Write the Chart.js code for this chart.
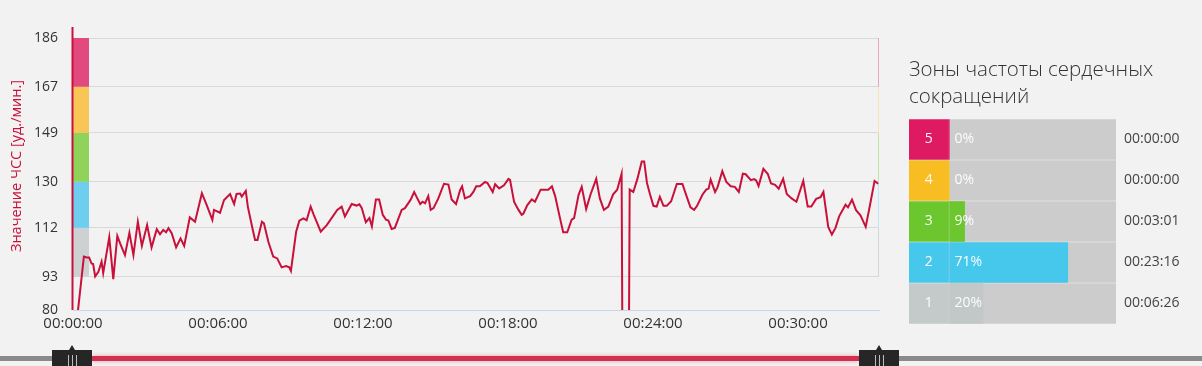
<!DOCTYPE html>
<html><head><meta charset="utf-8">
<script src="https://cdn.jsdelivr.net/npm/chart.js@4.4.1/dist/chart.umd.min.js"></script>
<style>
html,body{margin:0;padding:0;background:#f2f2f2;overflow:hidden;}
#wrap{position:relative;width:1202px;height:366px;}
#main{position:absolute;left:0;top:0;}
#zones{position:absolute;left:900px;top:0;}
</style></head><body>
<div id="wrap"><canvas id="main" width="1202" height="366"></canvas><canvas id="zones" width="302" height="340"></canvas></div>
<script>
// ---- data ----
const timeSec = [0,27,34,40,46,50,55,63,71,75,
90,100,110,117,129,140,150,161,171,184,
195,208,216,224,231,237,245,256,267,276,
290,303,320,332,346,350,365,375,390,400,
406,415,419,429,434,446,452,458,469,474,
485,497,507,518,529,537,541,554,562,572,
580,590,598,615,630,656,667,675,692,704,
711,717,727,736,742,752,760,769,777,783,
791,799,816,824,838,847,853,862,868,874,
882,888,895,907,921,932,940,951,961,966,
973,986,994,1001,1010,1023,1029,1042,1048,1058,
1070,1081,1085,1095,1106,1114,1118,1128,1139,1147,
1161,1180,1189,1197,1209,1217,1227,1238,1244,1255,
1263,1274,1285,1299,1308,1318,1329,1341,1351,1362,
1366,1378,1382,1391,1401,1412,1418,1425,1433,1441,
1449,1457,1466,1474,1485,1499,1513,1523,1533,1542,
1549,1563,1572,1578,1583,1594,1600,1612,1622,1633,
1643,1653,1663,1670,1683,1691,1696,1702,1714,1725,
1733,1743,1752,1763,1772,1784,1796,1813,1824,1833,
1845,1856,1863,1875,1884,1893,1902,1918,1924,1934,
1944,1955,1968,1979,1990,1999];
const heartRate = [62,100.8,100.5,100.5,98.1,97.9,93.1,94.9,98.8,94.4,
108.4,92,108.9,106,101.4,110.1,101.4,114.4,105,113.1,
104.4,111.5,109.5,111.2,110.3,111.9,109.9,104.4,107.9,105,
116.1,114.4,125.5,120.9,115.1,119,117.9,122.9,125.2,121.3,
125.2,125.4,124.2,126.4,120.3,111.5,107.3,107.3,114.4,113.8,
106.6,100.8,100.1,96.6,97.1,96.6,95.2,110.5,114.8,115.7,
115,120.3,117,110.5,113.1,119,120.3,116.4,121.3,120.7,
121.2,119.7,114.2,115.8,112.6,123.1,123.1,117.1,115.2,114.9,
111.6,112,119,119.7,122.9,126,124.1,121.3,122.2,121.6,
124.4,119,119.7,123.5,129.2,128.9,123.1,121.3,126.7,128.2,
123.5,124.4,126,128.2,128.2,129.9,129.5,126,129,127.4,
128.6,131.1,130.7,122.2,119,117.1,117.5,120.9,123.1,122.2,
126.9,126.9,128.2,124.4,115.8,110.3,110.3,115.2,115.8,124.8,
128,119.3,125.1,131.1,123.5,119,120.3,125.1,126.9,133.1,
0,0,126.9,126,131,137.9,137.9,129.5,124.8,120.6,
120.3,124.1,120.6,120.6,122.4,129.1,129.1,124.5,120,119,
120.5,125,126.9,127.3,130.8,126,127.8,134.1,129.9,128.2,
128,126,133.1,132.9,130.6,131,130.5,128.3,135,133,
129.3,128.8,127.3,131.1,125.2,123.5,122.2,130.3,120.3,120.3,
123.3,124,126,112.4,109.4,112,116.5,121,120,123,
118.9,116.9,112.4,121.2,130.3,129.2];
const durationSec = 2001;
const xTickSec = [0,360,720,1080,1440,1800];
const yTickValues = [80,93,112,130,149,167,186];
const zoneBounds = [93,112,130,149,167,186];          // zone 1..5 limits
const zoneBandColors = ['#cdd1d1','#6dcef0','#8fd35b','#f7c657','#e2497e'];
const zoneEdgeColors = ['#d6d6d6','#bfe6f4','#bfe3a6','#f6e3b8','#e6a6bd'];
const yAxisTitle = 'Значение ЧСС [уд./мин.]';

const panelTitle = ['Зоны частоты сердечных', 'сокращений'];
const zoneNames = ['5','4','3','2','1'];
const zonePercent = [0,0,9,71,20];
const zoneTimes = ['00:00:00','00:00:00','00:03:01','00:23:16','00:06:26'];
const zoneColors = ['#dd1a62','#f8bd22','#6cc62e','#46c7ec','#c4caca'];
const zoneFillColors = ['#dd1a62','#f8bd22','#6cc62e','#46c7ec','#c2c7c7'];

const FONT = "'Open Sans', 'DejaVu Sans', sans-serif";
const LINE = '#c8103a';

function hms(s){
  const h = Math.floor(s/3600), m = Math.floor((s%3600)/60), sec = Math.round(s%60);
  const p = v => String(v).padStart(2,'0');
  return p(h)+':'+p(m)+':'+p(sec);
}

const zonePlugin = {
  id:'zones',
  beforeDatasetsDraw(chart){
    const {ctx, chartArea, scales:{x, y}} = chart;
    ctx.save();
    for (let i = 0; i < zoneBounds.length - 1; i++){
      const y1 = y.getPixelForValue(zoneBounds[i+1]);
      const y2 = y.getPixelForValue(zoneBounds[i]);
      ctx.fillStyle = zoneBandColors[i];
      ctx.fillRect(chartArea.left, y1, 16, y2 - y1);
      ctx.strokeStyle = zoneEdgeColors[i];
      ctx.lineWidth = 1;
      ctx.beginPath();
      ctx.moveTo(chartArea.right - 0.5, y1);
      ctx.lineTo(chartArea.right - 0.5, y2);
      ctx.stroke();
    }
    ctx.restore();
  },
  afterDatasetsDraw(chart){
    const {ctx, chartArea, scales:{x}} = chart;
    ctx.save();
    const cx = x.getPixelForValue(0) - 0.5;
    ctx.strokeStyle = LINE;
    ctx.lineWidth = 2;
    ctx.beginPath();
    ctx.moveTo(cx, chartArea.top - 11);
    ctx.lineTo(cx, chartArea.bottom);
    ctx.stroke();
    // axis title
    ctx.translate(17, 166);
    ctx.rotate(-Math.PI/2);
    ctx.fillStyle = '#c8103a';
    ctx.font = '14.5px ' + FONT;
    ctx.textAlign = 'center';
    ctx.textBaseline = 'middle';
    ctx.fillText(yAxisTitle, 0, 0);
    ctx.restore();
  },
  afterDraw(chart){
    const {ctx, width, scales:{x}} = chart;
    const h0 = x.getPixelForValue(0) - 1;
    const h1 = x.getPixelForValue(durationSec);
    ctx.save();
    ctx.fillStyle = '#8a8a8a';
    ctx.fillRect(0, 356, width, 5);
    ctx.shadowColor = 'rgba(230,60,90,0.45)';
    ctx.shadowBlur = 4;
    ctx.fillStyle = '#d1304f';
    ctx.fillRect(h0 + 20, 356, h1 - h0 - 40, 5);
    ctx.shadowBlur = 0;
    [h0, h1].forEach(hx => {
      ctx.fillStyle = '#262626';
      ctx.fillRect(hx - 20, 350, 40, 16);
      ctx.beginPath();
      ctx.moveTo(hx - 3, 350); ctx.lineTo(hx, 345); ctx.lineTo(hx + 3, 350); ctx.closePath();
      ctx.fill();
      ctx.strokeStyle = '#bdbdbd';
      ctx.lineWidth = 1;
      [-4, 0, 4].forEach(d => {
        ctx.beginPath();
        ctx.moveTo(Math.round(hx + d) + 0.5, 355);
        ctx.lineTo(Math.round(hx + d) + 0.5, 366);
        ctx.stroke();
      });
    });
    ctx.restore();
  }
};

new Chart(document.getElementById('main'), {
  type:'line',
  data:{
    datasets:[{
      data: timeSec.map((t,i) => ({x:t, y:heartRate[i]})),
      borderColor: LINE,
      borderWidth: 2,
      pointRadius: 0,
      tension: 0,
      fill: false
    }]
  },
  options:{
    responsive:false, animation:false, events:[],
    layout:{padding:{left:0, top:38, right:323, bottom:31}},
    plugins:{legend:{display:false}, tooltip:{enabled:false}},
    scales:{
      x:{
        type:'linear', min:0, max:durationSec,
        afterBuildTicks: s => { s.ticks = xTickSec.map(v => ({value:v})); },
        afterFit: s => { s.height = 25; },
        grid:{display:false, drawTicks:false},
        border:{display:true, color:'#c6d5ea', width:1},
        ticks:{autoSkip:false, maxRotation:0, padding:5, color:'#333', font:{family:FONT, size:15}, callback: v => hms(v)}
      },
      y:{
        min:80, max:186,
        afterBuildTicks: s => { s.ticks = yTickValues.map(v => ({value:v})); },
        afterFit: s => { s.width = 73; },
        grid:{drawTicks:false, color: c => c.tick && c.tick.value === 80 ? 'rgba(0,0,0,0)' : '#d9d9d9'},
        border:{display:false},
        ticks:{autoSkip:false, padding:15, color:'#333', font:{family:FONT, size:14}}
      }
    }
  },
  plugins:[zonePlugin]
});

const labelPlugin = {
  id:'zoneLabels',
  afterDatasetsDraw(chart){
    const {ctx, chartArea, scales:{x, y}} = chart;
    ctx.save();
    // panel title
    ctx.font = '300 20.5px ' + FONT;
    ctx.fillStyle = '#333';
    ctx.textAlign = 'left';
    ctx.textBaseline = 'middle';
    panelTitle.forEach((line, k) => ctx.fillText(line, chartArea.left, 70 + k * 27));
    // row labels
    ctx.font = '14px ' + FONT;
    zoneNames.forEach((name, i) => {
      const yc = y.getPixelForValue(i);
      ctx.fillStyle = 'rgba(255,255,255,0.95)';
      ctx.textAlign = 'center';
      ctx.fillText(name, x.getPixelForValue(-12.5), yc);
      ctx.textAlign = 'left';
      ctx.fillText(zonePercent[i] + '%', x.getPixelForValue(0) + 5, yc);
      ctx.fillStyle = '#444';
      ctx.fillText(zoneTimes[i], chartArea.right + 8, yc);
    });
    ctx.restore();
  }
};

new Chart(document.getElementById('zones'), {
  type:'bar',
  data:{
    labels: zoneNames,
    datasets:[
      {data: zonePercent.map(p => [0, p]), backgroundColor: zoneFillColors, order:0},
      {data: zoneNames.map(() => [-24.4, -0.6]), backgroundColor: zoneColors, order:1},
      {data: zoneNames.map(() => [0, 100]), backgroundColor:'#cccccc', order:2}
    ]
  },
  options:{
    indexAxis:'y', responsive:false, animation:false, events:[],
    datasets:{bar:{grouped:false, barThickness:40, borderWidth:0}},
    layout:{padding:{left:9, right:86, top:119, bottom:16}},
    scales:{
      x:{type:'linear', min:-24.4, max:100, display:false},
      y:{display:false}
    },
    plugins:{legend:{display:false}, tooltip:{enabled:false}}
  },
  plugins:[labelPlugin]
});
</script>
</body></html>
